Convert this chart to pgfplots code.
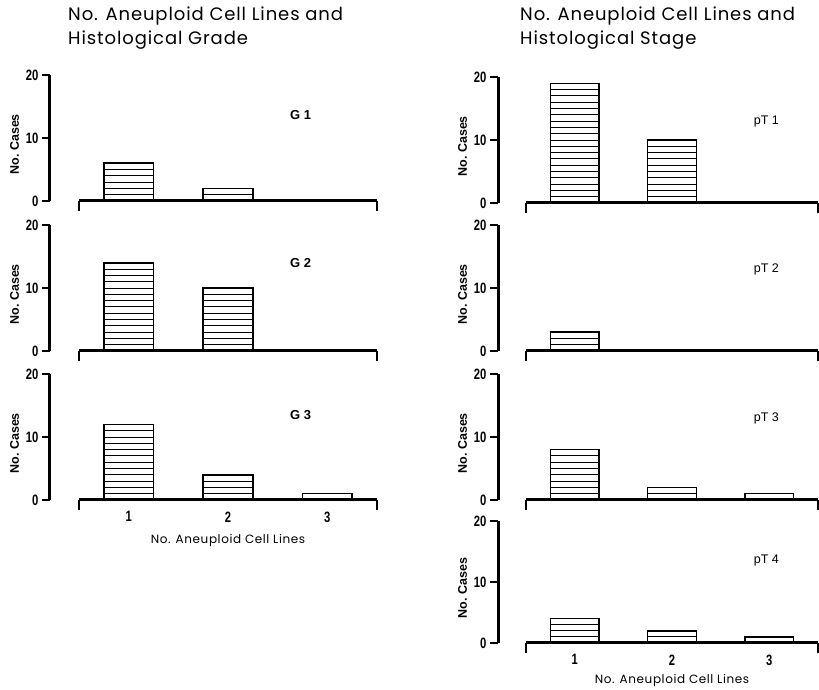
\documentclass[border=0pt]{standalone}
\usepackage{pgfplots}
\pgfplotsset{compat=1.18}
\usepackage{fontspec}
\setmainfont{Poppins}
\newfontfamily\titlefont{Poppins}[LetterSpace=5]
\newfontfamily\tickfont{Liberation Sans}[FakeStretch=0.75]
\newfontfamily\labfont{Liberation Sans}

\tikzset{hbar/.style={draw=black, line width=1.5pt, fill=white,
  path picture={%
    \foreach \k in {1,...,20}{%
      \pgfsetlinewidth{0.9pt}%
      \pgfsetstrokecolor{black}%
      \pgfpathmoveto{\pgfpointadd{\pgfpointanchor{path picture bounding box}{south west}}{\pgfpoint{-2pt}{\k*6.3pt}}}%
      \pgfpathlineto{\pgfpointadd{\pgfpointanchor{path picture bounding box}{south east}}{\pgfpoint{2pt}{\k*6.3pt}}}%
      \pgfusepath{stroke}%
    }%
  }}}
\pgfplotsset{
  panel/.style={
    scale only axis, height=126pt,
    xmin=0.5, xmax=3.5, ymin=0, ymax=20,
    axis x line=bottom, axis y line=left,
    axis line style={-, line width=3pt},
    axis on top,
    ytick={0,10,20}, xtick={1,2,3},
    tick align=outside, major tick length=8pt,
    tick style={black, line width=1.2pt},
    xtick style={draw=none},
    extra x ticks={0.5,3.5}, extra x tick labels={},
    extra x tick style={xtick style={draw=black, line width=1.2pt}, major tick length=10pt},
    /pgf/number format/assume math mode=true,
    yticklabel style={font=\tickfont\bfseries\fontsize{15}{15}\selectfont},
    xticklabel style={font=\tickfont\bfseries\fontsize{15}{15}\selectfont},
    ylabel={No.\ Cases},
    ylabel style={font=\labfont\bfseries\fontsize{12.5}{12.5}\selectfont, at={(ticklabel cs:0.45)}},
    xlabel style={font=\titlefont\fontsize{12}{12}\selectfont, yshift=13pt},
    xticklabels={},
    ybar, bar width=0.5,
  },
  leftp/.style={panel, width=298pt, axis y line shift=29pt},
  rightp/.style={panel, width=292pt, axis y line shift=28pt},
}
\tikzset{glab/.style={font=\labfont\bfseries\fontsize{13}{13}\selectfont}, plab/.style={font=\labfont\fontsize{12.5}{12.5}\selectfont}}

\begin{document}
\begin{tikzpicture}
\useasboundingbox (0,0) rectangle (819pt,690pt);
\node[anchor=north west, align=left, font=\titlefont\fontsize{18}{24}\selectfont, inner sep=0] at (68pt,683pt) {No. Aneuploid Cell Lines and\\Histological Grade};
\node[anchor=north west, align=left, font=\titlefont\fontsize{18}{24}\selectfont, inner sep=0] at (520pt,683pt) {No. Aneuploid Cell Lines and\\Histological Stage};

% left column
\begin{axis}[leftp, at={(79pt,489pt)}, anchor=south west]
\addplot[hbar] coordinates {(1,6) (2,2) (3,0)};
\node[glab] at (axis cs:2.73,13.6) {G 1};
\end{axis}
\begin{axis}[leftp, at={(79pt,339pt)}, anchor=south west]
\addplot[hbar] coordinates {(1,14) (2,10) (3,0)};
\node[glab] at (axis cs:2.73,14) {G 2};
\end{axis}
\begin{axis}[leftp, at={(79pt,190pt)}, anchor=south west, xticklabels={1,2,3}, xlabel={No. Aneuploid Cell Lines}]
\addplot[hbar] coordinates {(1,12) (2,4) (3,1)};
\node[glab] at (axis cs:2.73,13.5) {G 3};
\end{axis}

% right column
\begin{axis}[rightp, at={(526pt,487pt)}, anchor=south west]
\addplot[hbar] coordinates {(1,19) (2,10) (3,0)};
\node[plab] at (axis cs:2.97,12.9) {pT 1};
\end{axis}
\begin{axis}[rightp, at={(526pt,339pt)}, anchor=south west]
\addplot[hbar] coordinates {(1,3) (2,0) (3,0)};
\node[plab] at (axis cs:2.97,12.9) {pT 2};
\end{axis}
\begin{axis}[rightp, at={(526pt,190pt)}, anchor=south west]
\addplot[hbar] coordinates {(1,8) (2,2) (3,1)};
\node[plab] at (axis cs:2.97,13) {pT 3};
\end{axis}
\begin{axis}[rightp, at={(526pt,47pt)}, anchor=south west, height=122pt, xticklabels={1,2,3}, xlabel={No. Aneuploid Cell Lines}, xlabel style={yshift=3pt}]
\addplot[hbar] coordinates {(1,4) (2,2) (3,1)};
\node[plab] at (axis cs:2.97,13.6) {pT 4};
\end{axis}
\end{tikzpicture}
\end{document}
